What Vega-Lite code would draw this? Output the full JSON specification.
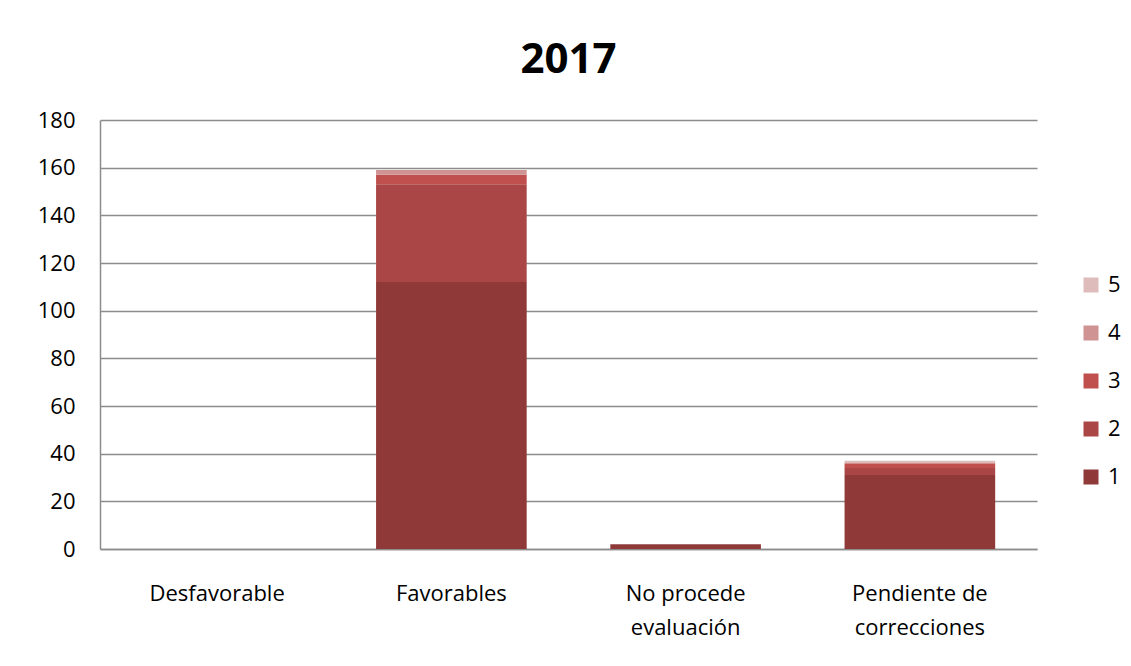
{
  "$schema": "https://vega.github.io/schema/vega-lite/v6.json",
  "width": 937,
  "height": 429,
  "autosize": {"type": "none"},
  "padding": {"left": 100, "top": 120, "right": 94, "bottom": 117},
  "background": "#ffffff",
  "title": {
    "text": "2017",
    "font": "Open Sans",
    "fontSize": 42,
    "fontWeight": "bold",
    "color": "#000000",
    "anchor": "middle",
    "offset": 27
  },
  "data": {
    "values": [
      {"categoria": "Desfavorable", "serie": 1, "valor": 0},
      {"categoria": "Desfavorable", "serie": 2, "valor": 0},
      {"categoria": "Desfavorable", "serie": 3, "valor": 0},
      {"categoria": "Desfavorable", "serie": 4, "valor": 0},
      {"categoria": "Desfavorable", "serie": 5, "valor": 0},
      {"categoria": "Favorables", "serie": 1, "valor": 112},
      {"categoria": "Favorables", "serie": 2, "valor": 41},
      {"categoria": "Favorables", "serie": 3, "valor": 4},
      {"categoria": "Favorables", "serie": 4, "valor": 2},
      {"categoria": "Favorables", "serie": 5, "valor": 0},
      {"categoria": "No procede evaluación", "serie": 1, "valor": 2},
      {"categoria": "No procede evaluación", "serie": 2, "valor": 0},
      {"categoria": "No procede evaluación", "serie": 3, "valor": 0},
      {"categoria": "No procede evaluación", "serie": 4, "valor": 0},
      {"categoria": "No procede evaluación", "serie": 5, "valor": 0},
      {"categoria": "Pendiente de correcciones", "serie": 1, "valor": 31},
      {"categoria": "Pendiente de correcciones", "serie": 2, "valor": 3},
      {"categoria": "Pendiente de correcciones", "serie": 3, "valor": 2},
      {"categoria": "Pendiente de correcciones", "serie": 4, "valor": 0},
      {"categoria": "Pendiente de correcciones", "serie": 5, "valor": 1}
    ]
  },
  "mark": {"type": "bar"},
  "encoding": {
    "x": {
      "field": "categoria",
      "type": "nominal",
      "sort": ["Desfavorable", "Favorables", "No procede evaluación", "Pendiente de correcciones"],
      "scale": {"paddingInner": 0.357, "paddingOuter": 0.1785},
      "axis": {
        "title": null,
        "labelAngle": 0,
        "ticks": false,
        "domainColor": "#8c8c8c",
        "domainWidth": 1.5,
        "labelFont": "Open Sans",
        "labelFontSize": 22,
        "labelColor": "#000000",
        "labelPadding": 34,
        "labelLineHeight": 34,
        "labelBaseline": "top",
        "labelExpr": "datum.label == 'No procede evaluación' ? ['No procede', 'evaluación'] : datum.label == 'Pendiente de correcciones' ? ['Pendiente de', 'correcciones'] : datum.label"
      }
    },
    "y": {
      "field": "valor",
      "type": "quantitative",
      "stack": "zero",
      "scale": {"domain": [0, 180], "nice": false},
      "axis": {
        "title": null,
        "values": [0, 20, 40, 60, 80, 100, 120, 140, 160, 180],
        "ticks": false,
        "domain": true,
        "domainColor": "#8c8c8c",
        "domainWidth": 1.5,
        "grid": true,
        "gridColor": "#8c8c8c",
        "gridWidth": 1.5,
        "labelFont": "Open Sans",
        "labelFontSize": 22,
        "labelColor": "#000000",
        "labelPadding": 25
      }
    },
    "color": {
      "field": "serie",
      "type": "nominal",
      "scale": {
        "domain": [5, 4, 3, 2, 1],
        "range": ["#dfbcbc", "#d09393", "#c0504d", "#aa4746", "#8f3a39"]
      },
      "legend": {
        "title": null,
        "orient": "none",
        "legendX": 980,
        "legendY": 154,
        "symbolType": "square",
        "symbolSize": 225,
        "symbolStrokeWidth": 0,
        "symbolOpacity": 1,
        "labelFont": "Open Sans",
        "labelFontSize": 22,
        "labelColor": "#000000",
        "labelOffset": 6,
        "rowPadding": 26
      }
    },
    "order": {"field": "serie", "sort": "ascending"}
  },
  "config": {
    "view": {"stroke": null}
  }
}
